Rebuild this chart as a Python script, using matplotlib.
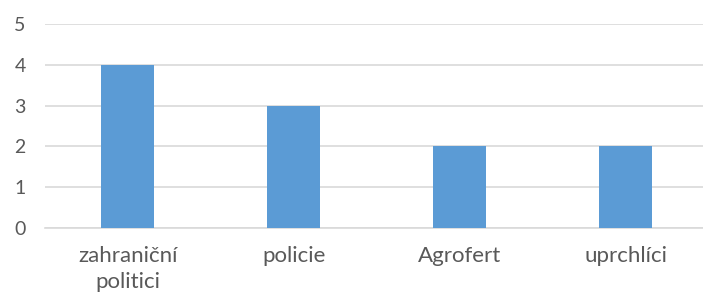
import matplotlib
matplotlib.use("Agg")
import matplotlib.pyplot as plt
import numpy as np

categories = ["zahraniční\npolitici", "policie", "Agrofert", "uprchlíci"]
values = [4, 3, 2, 2]
y_ticks = [0, 1, 2, 3, 4, 5]

plt.rcParams["font.family"] = ["Lato", "DejaVu Sans"]

fig = plt.figure(figsize=(7.03, 2.97), dpi=100)
ax = fig.add_axes([45 / 703, 69 / 297, 658 / 703, 204 / 297])

x = np.arange(len(categories))
ax.bar(x, values, width=0.32, color="#5B9BD5", zorder=3)

ax.set_ylim(0, 5)
ax.set_xlim(-0.5, 3.467)
ax.set_yticks(y_ticks)
ax.set_xticks(x)
ax.set_xticklabels(categories, linespacing=1.35)
ax.yaxis.grid(True, color="#D9D9D9", linewidth=1.2, zorder=0)
ax.tick_params(axis="both", length=0, colors="#595959")
ax.tick_params(axis="y", pad=14, labelsize=14)
ax.tick_params(axis="x", pad=13, labelsize=16)
for s in ["top", "right", "left"]:
    ax.spines[s].set_visible(False)
ax.spines["bottom"].set_color("#D9D9D9")
ax.spines["bottom"].set_linewidth(1.2)

fig.savefig("out.png", dpi=100)
